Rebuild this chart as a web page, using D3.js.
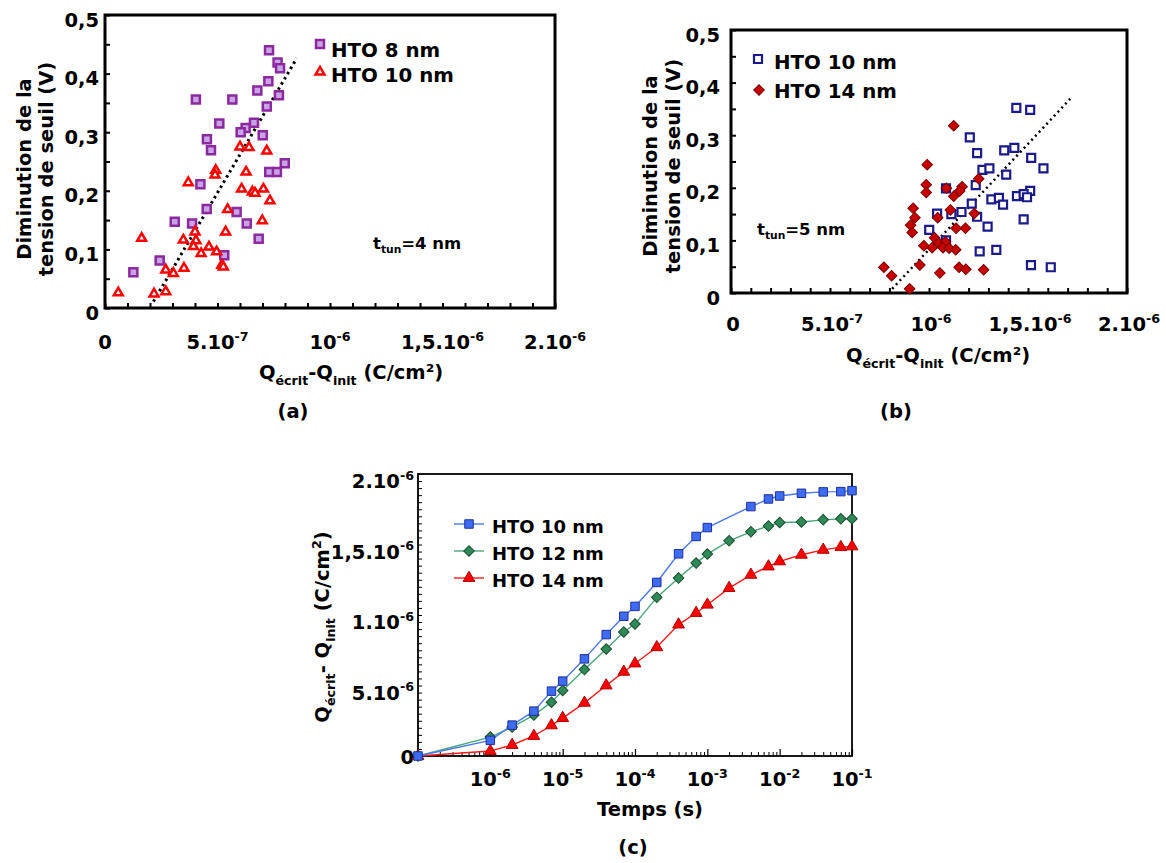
<!DOCTYPE html>
<html><head><meta charset="utf-8">
<script src="https://cdn.jsdelivr.net/npm/d3@7"></script>
<style>
body{margin:0;background:#fff}
svg{display:block}
text{font-family:"DejaVu Sans",sans-serif;font-weight:bold;fill:#000}
</style>
</head><body>
<svg id="c" width="1166" height="863"></svg>
<script>
// ---------------- DATA ----------------
// Panel (a)
const aXTicks = [0, 5e-7, 1e-6, 1.5e-6, 2e-6];
const aXTickLabels = ["0", "5.10^{-7}", "10^{-6}", "1,5.10^{-6}", "2.10^{-6}"];
const aYTicks = [0, 0.1, 0.2, 0.3, 0.4, 0.5];
const aYTickLabels = ["0", "0,1", "0,2", "0,3", "0,4", "0,5"];
const aHto8X = [7.29e-7,7.67e-7,7.78e-7,7.26e-7,6.77e-7,7.73e-7,4.04e-7,5.66e-7,7.19e-7,5.08e-7,6.62e-7,6.25e-7,6.03e-7,7.01e-7,4.53e-7,4.71e-7,7.99e-7,7.30e-7,7.64e-7,4.24e-7,4.52e-7,5.85e-7,3.10e-7,3.87e-7,6.30e-7,6.83e-7,5.30e-7,2.43e-7,1.26e-7];
const aHto8Y = [0.440,0.419,0.409,0.387,0.371,0.363,0.356,0.356,0.344,0.315,0.316,0.307,0.300,0.295,0.288,0.269,0.247,0.232,0.232,0.211,0.169,0.164,0.147,0.144,0.144,0.118,0.090,0.081,0.061];
const aHto10X = [6.00e-7,6.40e-7,7.19e-7,4.92e-7,4.89e-7,6.27e-7,3.70e-7,6.07e-7,6.55e-7,6.67e-7,7.04e-7,7.33e-7,5.45e-7,6.99e-7,5.36e-7,4.00e-7,3.48e-7,1.63e-7,4.04e-7,3.93e-7,4.62e-7,4.27e-7,4.96e-7,5.19e-7,5.26e-7,3.51e-7,2.70e-7,3.04e-7,0.59e-7,2.18e-7,2.70e-7];
const aHto10Y = [0.275,0.274,0.268,0.235,0.227,0.232,0.214,0.203,0.198,0.196,0.203,0.183,0.168,0.149,0.130,0.130,0.116,0.119,0.115,0.105,0.104,0.093,0.096,0.073,0.070,0.068,0.065,0.059,0.026,0.024,0.028];
const aFitX = [2.15e-7, 8.52e-7];
const aFitY = [0.011, 0.426];
const aSeries = ["HTO 8 nm", "HTO 10 nm"];

// Panel (b)
const bXTicks = [0, 5e-7, 1e-6, 1.5e-6, 2e-6];
const bXTickLabels = ["0", "5.10^{-7}", "10^{-6}", "1,5.10^{-6}", "2.10^{-6}"];
const bYTicks = [0, 0.1, 0.2, 0.3, 0.4, 0.5];
const bYTickLabels = ["0", "0,1", "0,2", "0,3", "0,4", "0,5"];
const bHto10X = [14.41e-7,15.11e-7,12.06e-7,12.43e-7,13.80e-7,14.31e-7,15.16e-7,15.78e-7,12.70e-7,13.05e-7,13.90e-7,12.36e-7,10.86e-7,15.11e-7,14.44e-7,14.78e-7,14.95e-7,13.15e-7,13.53e-7,13.74e-7,12.16e-7,11.64e-7,11.13e-7,10.41e-7,12.43e-7,12.96e-7,14.78e-7,10.01e-7,10.86e-7,12.56e-7,13.40e-7,15.15e-7,16.15e-7];
const bHto10Y = [0.352,0.348,0.296,0.266,0.271,0.276,0.257,0.237,0.234,0.237,0.225,0.205,0.199,0.194,0.184,0.188,0.182,0.178,0.181,0.168,0.170,0.154,0.150,0.151,0.145,0.126,0.140,0.120,0.100,0.079,0.082,0.053,0.049];
const bHto14X = [11.25e-7,9.91e-7,9.86e-7,9.86e-7,10.88e-7,11.67e-7,11.55e-7,11.25e-7,12.51e-7,9.20e-7,9.29e-7,9.07e-7,9.15e-7,10.44e-7,11.08e-7,12.29e-7,11.37e-7,11.84e-7,10.28e-7,10.16e-7,9.74e-7,10.50e-7,10.83e-7,10.71e-7,11.02e-7,11.35e-7,9.54e-7,7.72e-7,8.11e-7,10.55e-7,11.52e-7,11.86e-7,12.76e-7,9.02e-7];
const bHto14Y = [0.318,0.244,0.206,0.191,0.199,0.202,0.194,0.184,0.217,0.161,0.143,0.129,0.115,0.143,0.158,0.151,0.123,0.123,0.105,0.086,0.090,0.095,0.097,0.086,0.085,0.082,0.053,0.049,0.033,0.038,0.049,0.045,0.044,0.008];
const bFitX = [8.14e-7, 17.13e-7];
const bFitY = [0.008, 0.369];
const bSeries = ["HTO 10 nm", "HTO 14 nm"];

// Panel (c)
const cTime = [1e-7,1e-6,2e-6,4e-6,7e-6,1e-5,2e-5,4e-5,7e-5,1e-4,2e-4,4e-4,7e-4,1e-3,2e-3,4e-3,7e-3,1e-2,2e-2,4e-2,7e-2,1e-1];
const cHto10 = [0,0.111e-6,0.219e-6,0.318e-6,0.460e-6,0.531e-6,0.689e-6,0.861e-6,0.991e-6,1.061e-6,1.231e-6,1.434e-6,1.557e-6,1.620e-6,null,1.769e-6,1.823e-6,1.844e-6,1.863e-6,1.873e-6,1.875e-6,1.882e-6];
const cHto12 = [0,0.134e-6,0.205e-6,0.290e-6,0.382e-6,0.465e-6,0.613e-6,0.759e-6,0.880e-6,0.936e-6,1.125e-6,1.262e-6,1.368e-6,1.432e-6,1.526e-6,1.590e-6,1.632e-6,1.656e-6,1.660e-6,1.675e-6,1.682e-6,1.682e-6];
const cHto14 = [0,0.035e-6,0.078e-6,0.142e-6,0.217e-6,0.269e-6,0.377e-6,0.500e-6,0.597e-6,0.656e-6,0.771e-6,0.932e-6,1.014e-6,1.073e-6,1.191e-6,1.285e-6,1.344e-6,1.380e-6,1.427e-6,1.462e-6,1.481e-6,1.486e-6];
const cSeries = ["HTO 10 nm", "HTO 12 nm", "HTO 14 nm"];
const cXTicks = [1e-6, 1e-5, 1e-4, 1e-3, 1e-2, 1e-1];
const cXTickLabels = ["10^{-6}", "10^{-5}", "10^{-4}", "10^{-3}", "10^{-2}", "10^{-1}"];
const cYTicks = [0, 0.5e-6, 1e-6, 1.5e-6, 2e-6];
const cYTickLabels = ["0", "5.10^{-6}", "1.10^{-6}", "1,5.10^{-6}", "2.10^{-6}"];

// ---------------- HELPERS ----------------
const FS = 19.5;
const svg = d3.select('#c');

function parseRich(s){
  const parts=[]; const re=/([_^])\{([^}]*)\}/g; let last=0,m;
  while((m=re.exec(s))){
    if(m.index>last) parts.push({t:s.slice(last,m.index)});
    parts.push({t:m[2], mode:m[1]==='^'?'sup':'sub'});
    last=re.lastIndex;
  }
  if(last<s.length) parts.push({t:s.slice(last)});
  return parts;
}
function richText(parent, x, y, str, opt={}){
  const fs = opt.fs || FS;
  const t = parent.append('text').attr('font-size', fs).attr('text-anchor', opt.anchor || 'start');
  if(opt.rotate) t.attr('transform', `translate(${x},${y}) rotate(-90)`);
  else t.attr('x', x).attr('y', y);
  let off = 0;
  parseRich(str).forEach(p=>{
    const target = p.mode==='sub' ? fs*(opt.subDy||0.3) : p.mode==='sup' ? -fs*0.42 : 0;
    const ts = t.append('tspan').text(p.t);
    if(target-off !== 0) ts.attr('dy', target-off);
    if(p.mode) ts.attr('font-size', fs*(opt.small||0.65));
    off = target;
  });
  return t;
}
function zip(xs, ys){ return xs.map((x,i)=>({x, y:ys[i]})); }

// ============ PANEL (a) ============
{
  const g = svg.append('g');
  const x = d3.scaleLinear().domain([0,2e-6]).range([105,555]);
  const y = d3.scaleLinear().domain([0,0.5]).range([308,15]);
  g.append('g').attr('transform',`translate(0,${y(0)})`)
    .call(d3.axisBottom(x).tickValues(d3.range(0,21).map(i=>i*1e-7)).tickSizeInner(-5).tickSizeOuter(0).tickFormat(''))
    .call(s=>{s.select('.domain').remove(); s.selectAll('line').attr('stroke','#000').attr('stroke-width',2);});
  g.append('g').attr('transform',`translate(${x(0)},0)`)
    .call(d3.axisLeft(y).tickValues(d3.range(0,11).map(i=>i*0.05)).tickSizeInner(-5).tickSizeOuter(0).tickFormat(''))
    .call(s=>{s.select('.domain').remove(); s.selectAll('line').attr('stroke','#000').attr('stroke-width',2);});
  g.append('rect').attr('x',x(0)).attr('y',y(0.5)).attr('width',x(2e-6)-x(0)).attr('height',y(0)-y(0.5))
    .attr('fill','none').attr('stroke','#000').attr('stroke-width',3);
  aXTicks.forEach((v,i)=>richText(g, x(v), 349, aXTickLabels[i], {anchor:'middle'}));
  aYTicks.forEach((v,i)=>richText(g, 99, y(v)+11.5, aYTickLabels[i], {anchor:'end'}));
  g.append('path').datum(zip(aFitX,aFitY))
    .attr('d', d3.line().x(d=>x(d.x)).y(d=>y(d.y)))
    .attr('fill','none').attr('stroke','#000').attr('stroke-width',3).attr('stroke-dasharray','2.5,3.5');
  g.append('g').selectAll('path').data(zip(aHto8X,aHto8Y)).join('path')
    .attr('transform',d=>`translate(${x(d.x)},${y(d.y)})`)
    .attr('d', d3.symbol().type(d3.symbolSquare).size(64))
    .attr('fill','#c9a3e6').attr('stroke','#8b2a9e').attr('stroke-width',2.5);
  g.append('g').selectAll('path').data(zip(aHto10X,aHto10Y)).join('path')
    .attr('transform',d=>`translate(${x(d.x)},${y(d.y)})`)
    .attr('d', d3.symbol().type(d3.symbolTriangle).size(34))
    .attr('fill','#fff').attr('stroke','#ff0000').attr('stroke-width',2.5);
  // legend
  g.append('path').attr('transform','translate(320,44)').attr('d', d3.symbol().type(d3.symbolSquare).size(64))
    .attr('fill','#c9a3e6').attr('stroke','#8b2a9e').attr('stroke-width',2.5);
  richText(g, 331, 56.5, aSeries[0], {fs:19.8});
  g.append('path').attr('transform','translate(320,72)').attr('d', d3.symbol().type(d3.symbolTriangle).size(34))
    .attr('fill','#fff').attr('stroke','#ff0000').attr('stroke-width',2.5);
  richText(g, 331, 81.5, aSeries[1], {fs:19.8});
  richText(g, 373, 249, "t_{tun}=4 nm", {fs:16.5, subDy:0.25});
  richText(g, 351, 379, "Q_{écrit}-Q_{init} (C/cm²)", {anchor:'middle'});
  richText(g, 293, 418, "(a)", {anchor:'middle'});
  richText(g, 30.5, 169, "Diminution de la", {anchor:'middle', rotate:true});
  richText(g, 53, 169, "tension de seuil (V)", {anchor:'middle', rotate:true});
}

// ============ PANEL (b) ============
{
  const g = svg.append('g');
  const x = d3.scaleLinear().domain([0,2e-6]).range([731,1127]);
  const y = d3.scaleLinear().domain([0,0.5]).range([293,30]);
  g.append('g').attr('transform',`translate(0,${y(0)})`)
    .call(d3.axisBottom(x).tickValues(d3.range(0,21).map(i=>i*1e-7)).tickSizeInner(-5).tickSizeOuter(0).tickFormat(''))
    .call(s=>{s.select('.domain').remove(); s.selectAll('line').attr('stroke','#000').attr('stroke-width',2);});
  g.append('g').attr('transform',`translate(${x(0)},0)`)
    .call(d3.axisLeft(y).tickValues(d3.range(0,11).map(i=>i*0.05)).tickSizeInner(-5).tickSizeOuter(0).tickFormat(''))
    .call(s=>{s.select('.domain').remove(); s.selectAll('line').attr('stroke','#000').attr('stroke-width',2);});
  g.append('rect').attr('x',x(0)).attr('y',y(0.5)).attr('width',x(2e-6)-x(0)).attr('height',y(0)-y(0.5))
    .attr('fill','none').attr('stroke','#000').attr('stroke-width',3);
  bXTicks.forEach((v,i)=>richText(g, x(v)+2, 331, bXTickLabels[i], {anchor:'middle'}));
  bYTicks.forEach((v,i)=>richText(g, 720, y(v)+11.5, bYTickLabels[i], {anchor:'end'}));
  g.append('path').datum(zip(bFitX,bFitY))
    .attr('d', d3.line().x(d=>x(d.x)).y(d=>y(d.y)))
    .attr('fill','none').attr('stroke','#000').attr('stroke-width',2.5).attr('stroke-dasharray','2,3.5');
  g.append('g').selectAll('path').data(zip(bHto10X,bHto10Y)).join('path')
    .attr('transform',d=>`translate(${x(d.x)},${y(d.y)})`)
    .attr('d', d3.symbol().type(d3.symbolSquare).size(64))
    .attr('fill','#fff').attr('stroke','#1a1a8c').attr('stroke-width',2.2);
  g.append('g').selectAll('path').data(zip(bHto14X,bHto14Y)).join('path')
    .attr('transform',d=>`translate(${x(d.x)},${y(d.y)}) rotate(45)`)
    .attr('d', d3.symbol().type(d3.symbolSquare).size(56))
    .attr('fill','#c80000').attr('stroke','#7a0000').attr('stroke-width',1);
  g.append('path').attr('transform','translate(758,59)').attr('d', d3.symbol().type(d3.symbolSquare).size(64))
    .attr('fill','#fff').attr('stroke','#1a1a8c').attr('stroke-width',2.2);
  richText(g, 774, 69, bSeries[0], {fs:19.8});
  g.append('path').attr('transform','translate(759,90) rotate(45)').attr('d', d3.symbol().type(d3.symbolSquare).size(56))
    .attr('fill','#c80000').attr('stroke','#7a0000').attr('stroke-width',1);
  richText(g, 774, 98, bSeries[1], {fs:19.8});
  richText(g, 757, 235, "t_{tun}=5 nm", {fs:16.5, subDy:0.25});
  richText(g, 938, 362, "Q_{écrit}-Q_{init} (C/cm²)", {anchor:'middle'});
  richText(g, 896, 418, "(b)", {anchor:'middle'});
  richText(g, 657, 166, "Diminution de la", {anchor:'middle', rotate:true});
  richText(g, 680, 166, "tension de seuil (V)", {anchor:'middle', rotate:true});
}

// ============ PANEL (c) ============
{
  const g = svg.append('g');
  const x = d3.scaleLog().domain([1e-7,1e-1]).range([418,852]);
  const y = d3.scaleLinear().domain([0,2e-6]).range([756,474]);
  const minor = [];
  for(let e=-7;e<-1;e++) for(let k=2;k<=9;k++) minor.push(k*Math.pow(10,e));
  g.append('g').attr('transform',`translate(0,${y(0)})`)
    .call(d3.axisBottom(x).tickValues(minor).tickSizeInner(-4).tickSizeOuter(0).tickFormat(''))
    .call(s=>{s.select('.domain').remove(); s.selectAll('line').attr('stroke','#000').attr('stroke-width',1);});
  g.append('g').attr('transform',`translate(0,${y(0)})`)
    .call(d3.axisBottom(x).tickValues([1e-7,1e-6,1e-5,1e-4,1e-3,1e-2,1e-1]).tickSizeInner(-7).tickSizeOuter(0).tickFormat(''))
    .call(s=>{s.select('.domain').remove(); s.selectAll('line').attr('stroke','#000').attr('stroke-width',1.2);});
  g.append('g').attr('transform',`translate(${x(1e-7)},0)`)
    .call(d3.axisLeft(y).tickValues(d3.range(0,41).map(i=>i*5e-8)).tickSizeInner(-4).tickSizeOuter(0).tickFormat(''))
    .call(s=>{s.select('.domain').remove(); s.selectAll('line').attr('stroke','#000').attr('stroke-width',1);});
  g.append('rect').attr('x',x(1e-7)).attr('y',y(2e-6)).attr('width',x(1e-1)-x(1e-7)).attr('height',y(0)-y(2e-6))
    .attr('fill','none').attr('stroke','#000').attr('stroke-width',1.8);
  cXTicks.forEach((v,i)=>richText(g, x(v), 786, cXTickLabels[i], {anchor:'middle'}));
  cYTicks.forEach((v,i)=>richText(g, 414, y(v)+(v===0?8:14), cYTickLabels[i], {anchor:'end'}));

  const series = [
    {name:cSeries[0], vals:cHto10, line:'#4a78f0', fill:'#3d6cf2', stroke:'#1f2f9b', sym:d3.symbolSquare, size:72, rot:0},
    {name:cSeries[1], vals:cHto12, line:'#4aa77a', fill:'#2e8b57', stroke:'#1a4a2e', sym:d3.symbolSquare, size:56, rot:45},
    {name:cSeries[2], vals:cHto14, line:'#ff1a1a', fill:'#ff0000', stroke:'#b00000', sym:d3.symbolTriangle, size:60, rot:0}
  ];
  series.slice().reverse().forEach(s=>{
    const pts = cTime.map((t,i)=>({t, v:s.vals[i]})).filter(d=>d.v!==null);
    g.append('path').datum(pts).attr('d', d3.line().x(d=>x(d.t)).y(d=>y(d.v)))
      .attr('fill','none').attr('stroke',s.line).attr('stroke-width',1.4);
    g.append('g').selectAll('path').data(pts).join('path')
      .attr('transform',d=>`translate(${x(d.t)},${y(d.v)}) rotate(${s.rot})`)
      .attr('d', d3.symbol().type(s.sym).size(s.size))
      .attr('fill',s.fill).attr('stroke',s.stroke).attr('stroke-width',1);
  });
  const ly = [524, 551, 578];
  series.forEach((s,i)=>{
    g.append('line').attr('x1',454).attr('x2',484).attr('y1',ly[i]).attr('y2',ly[i]).attr('stroke',s.line).attr('stroke-width',1.4);
    g.append('path').attr('transform',`translate(469,${ly[i]}) rotate(${s.rot})`)
      .attr('d', d3.symbol().type(s.sym).size(s.size))
      .attr('fill',s.fill).attr('stroke',s.stroke).attr('stroke-width',1);
    richText(g, 492, ly[i]+9, s.name, {fs:18});
  });
  richText(g, 650, 816, "Temps (s)", {anchor:'middle'});
  richText(g, 633, 854, "(c)", {anchor:'middle'});
  richText(g, 329, 627, "Q_{écrit}- Q_{init} (C/cm^{2})", {anchor:'middle', rotate:true});
}
</script>
</body></html>
